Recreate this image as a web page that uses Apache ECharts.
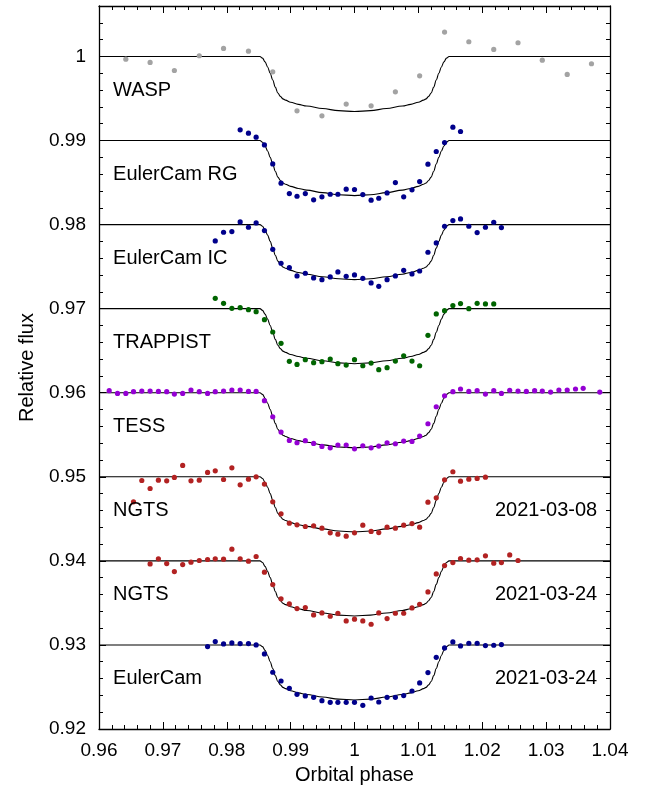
<!DOCTYPE html>
<html>
<head>
<meta charset="utf-8">
<script src="https://cdn.jsdelivr.net/npm/echarts@6/dist/echarts.min.js"></script>
<style>
html,body{margin:0;padding:0;background:#fff;}
#chart{width:657px;height:794px;}
</style>
</head>
<body>
<div id="chart"></div>
<script>
// ---------- data ----------
// shared phase bins (binned light curves)
const phaseBins = [0.9616,0.9629,0.9642,0.9654,0.9667,0.9680,0.9693,0.9706,0.9718,0.9731,
  0.9744,0.9757,0.9770,0.9782,0.9795,0.9808,0.9821,0.9834,0.9846,0.9859,
  0.9872,0.9885,0.9898,0.9910,0.9923,0.9936,0.9949,0.9962,0.9974,0.9987,
  1.0000,1.0013,1.0026,1.0038,1.0051,1.0064,1.0077,1.0090,1.0102,1.0115,
  1.0128,1.0141,1.0154,1.0166,1.0179,1.0192,1.0205,1.0218,1.0230,1.0243,
  1.0256,1.0269,1.0282,1.0294,1.0307,1.0320,1.0333,1.0346,1.0358,1.0371,1.0384];

const waspPhase = [0.9642,0.9680,0.9718,0.9757,0.9795,0.9834,0.9872,0.9910,0.9949,0.9987,
  1.0026,1.0064,1.0102,1.0141,1.0179,1.0218,1.0256,1.0294,1.0333,1.0371];
const waspFlux = [0.99968,0.99929,0.99833,1.00008,1.00095,1.00063,0.99817,0.99353,0.99294,0.99433,
  0.99413,0.99579,0.99770,1.00290,1.00175,1.00083,1.00163,0.99956,0.99786,0.99913];

const eulerRgStart = 16;
const eulerRgFlux = [0.99127,0.99087,0.99040,0.98948,0.98722,0.98492,0.98369,0.98337,0.98369,0.98294,
  0.98330,0.98361,0.98361,0.98421,0.98417,0.98357,0.98290,0.98313,0.98377,0.98500,
  0.98330,0.98413,0.98512,0.98718,0.98869,0.98976,0.99159,0.99107];

const eulerIcStart = 13;
const eulerIcFlux = [0.97806,0.97909,0.97917,0.98032,0.97968,0.98020,0.97929,0.97706,0.97540,0.97488,
  0.97389,0.97421,0.97365,0.97345,0.97377,0.97437,0.97385,0.97401,0.97361,0.97306,
  0.97266,0.97345,0.97389,0.97456,0.97413,0.97448,0.97671,0.97782,0.97980,0.98048,
  0.98067,0.97980,0.97905,0.97968,0.98028,0.97964];

const trappistStart = 13;
const trappistFlux = [0.97123,0.97063,0.97004,0.97012,0.96988,0.96964,0.96869,0.96722,0.96587,0.96373,
  0.96337,0.96393,0.96357,0.96369,0.96401,0.96345,0.96329,0.96393,0.96321,0.96353,
  0.96274,0.96298,0.96377,0.96440,0.96377,0.96321,0.96683,0.96937,0.96976,0.97036,
  0.97060,0.97000,0.97063,0.97056,0.97056];

const tessStart = 0;
const tessFlux = [0.96024,0.95992,0.95992,0.96012,0.96020,0.96020,0.96016,0.96012,0.95984,0.95992,
  0.96032,0.96012,0.95992,0.96012,0.96020,0.96032,0.96032,0.96016,0.96016,0.95905,
  0.95714,0.95532,0.95433,0.95405,0.95429,0.95397,0.95361,0.95345,0.95377,0.95377,
  0.95333,0.95369,0.95345,0.95365,0.95405,0.95393,0.95425,0.95421,0.95484,0.95631,
  0.95833,0.95964,0.96012,0.96044,0.96016,0.96024,0.95984,0.96024,0.95992,0.96028,
  0.96020,0.96016,0.96024,0.96020,0.96008,0.96032,0.96032,0.96044,0.96052,null,0.96008];

const ngts1Start = 3;
const ngts1Flux = [0.94702,0.94956,0.94861,0.94960,0.94952,0.94992,0.95135,0.94952,0.94960,0.95052,
  0.95071,0.94968,0.95107,0.94905,0.94972,0.95000,0.94913,0.94702,0.94560,0.94448,
  0.94429,0.94409,0.94417,0.94389,0.94333,0.94317,0.94294,0.94333,0.94425,0.94350,
  0.94337,0.94401,0.94389,0.94425,0.94444,0.94401,0.94698,0.94750,0.94964,0.95060,
  0.94948,0.94972,0.94980,0.94996];

const ngts2Start = 5;
const ngts2Flux = [0.93964,0.94024,0.93968,0.93873,0.93956,0.93984,0.94004,0.94016,0.94024,0.94020,
  0.94139,0.94024,0.93996,0.94052,0.93865,0.93718,0.93548,0.93488,0.93433,0.93444,
  0.93357,0.93381,0.93341,0.93377,0.93286,0.93306,0.93286,0.93246,0.93381,0.93313,
  0.93377,0.93377,0.93440,0.93484,0.93631,0.93845,0.93944,0.93980,0.94028,0.94008,
  0.94012,0.94060,0.93972,0.93980,0.94071,0.94004];

const eulerStart = 12;
const eulerFlux = [0.92980,0.93040,0.93012,0.93024,0.93016,0.93016,0.93000,0.92893,0.92675,0.92571,
  0.92484,0.92413,0.92393,0.92377,0.92337,0.92317,0.92317,0.92317,0.92317,0.92282,
  0.92369,0.92321,0.92377,0.92377,0.92397,0.92452,0.92548,0.92671,0.92853,0.92964,
  0.93036,0.92988,0.93020,0.93020,0.92992,0.92996,0.93004];

// transit model (normalised), shared by all panels
const modelPhase = [0.9600,0.9852,0.9856,0.9860,0.9864,0.9868,0.9872,0.9876,0.9880,0.9884,
  0.9888,0.9892,0.9900,0.9912,0.9925,0.9950,0.9975,1.0000,1.0025,1.0050,
  1.0075,1.0088,1.0100,1.0108,1.0112,1.0116,1.0120,1.0124,1.0128,1.0132,
  1.0136,1.0140,1.0144,1.0148,1.0400];
const modelFlux = [1.00000,1.00000,0.99980,0.99935,0.99875,0.99800,0.99720,0.99635,0.99565,0.99525,
  0.99495,0.99480,0.99455,0.99430,0.99410,0.99380,0.99355,0.99345,0.99355,0.99380,
  0.99410,0.99430,0.99455,0.99480,0.99495,0.99525,0.99565,0.99635,0.99720,0.99800,
  0.99875,0.99935,0.99980,1.00000,1.00000];

const baselines = [1.00, 0.99, 0.98, 0.97, 0.96, 0.95, 0.94, 0.93];
const instruments = ['WASP','EulerCam RG','EulerCam IC','TRAPPIST','TESS','NGTS','NGTS','EulerCam'];
const dates = [null,null,null,null,null,'2021-03-08','2021-03-24','2021-03-24'];

const xTicks = [0.96,0.97,0.98,0.99,1.00,1.01,1.02,1.03,1.04];
const yTicks = [0.92,0.93,0.94,0.95,0.96,0.97,0.98,0.99,1.00];

// ---------- build ----------
const colors = {
  wasp:'#a3a3a3', euler:'#00008b', trappist:'#006400', tess:'#9400d3', ngts:'#b22222'
};
function binned(start, flux){
  const out = [];
  flux.forEach((f,i)=>{ if(f!==null) out.push([phaseBins[start+i], f]); });
  return out;
}
const pointSets = [
  {data: waspPhase.map((p,i)=>[p, waspFlux[i]]), color: colors.wasp},
  {data: binned(eulerRgStart, eulerRgFlux), color: colors.euler},
  {data: binned(eulerIcStart, eulerIcFlux), color: colors.euler},
  {data: binned(trappistStart, trappistFlux), color: colors.trappist},
  {data: binned(tessStart, tessFlux), color: colors.tess},
  {data: binned(ngts1Start, ngts1Flux), color: colors.ngts},
  {data: binned(ngts2Start, ngts2Flux), color: colors.ngts},
  {data: binned(eulerStart, eulerFlux), color: colors.euler}
];

const FONT = '"Liberation Sans", Arial, sans-serif';
const series = [];
baselines.forEach((b)=>{
  series.push({
    type:'line', xAxisIndex:0, yAxisIndex:0, silent:true,
    data: modelPhase.map((p,i)=>[p, modelFlux[i] - (1 - b)]),
    showSymbol:false, smooth:0.35, smoothMonotone:'x',
    lineStyle:{color:'#000', width:1.1}, z:2
  });
});
pointSets.forEach((s)=>{
  series.push({
    type:'scatter', xAxisIndex:0, yAxisIndex:0, silent:true,
    data:s.data, symbolSize:5.2, itemStyle:{color:s.color, opacity:1}, z:3
  });
});
const LABEL_DY = 0.0040;
series.push({
  type:'scatter', xAxisIndex:0, yAxisIndex:0, silent:true, symbolSize:0, z:4,
  itemStyle:{opacity:1},
  data: baselines.map((b,i)=>({value:[0.9622, b - LABEL_DY], name:instruments[i]})),
  label:{show:true, position:'right', distance:0, formatter:p=>p.name,
         color:'#000', opacity:1, fontSize:20, fontFamily:FONT}
});
series.push({
  type:'scatter', xAxisIndex:0, yAxisIndex:0, silent:true, symbolSize:0, z:4,
  itemStyle:{opacity:1},
  data: baselines.map((b,i)=>({value:[1.0380, b - LABEL_DY], name:dates[i]})).filter(d=>d.name),
  label:{show:true, position:'left', distance:0, formatter:p=>p.name,
         color:'#000', opacity:1, fontSize:20, fontFamily:FONT}
});

const fmt = v => String(+(+v).toFixed(3));
const lineStyle = {color:'#000', width:1.3};
function xAx(pos, labels){
  return {
    type:'value', position:pos, min:0.96, max:1.04, interval:0.01,
    axisLine:{show:true, onZero:false, lineStyle},
    axisTick:{show:true, inside:true, length:7, lineStyle:{color:'#000', width:1}},
    minorTick:{show:true, splitNumber:5, length:4, lineStyle:{color:'#000', width:1}},
    splitLine:{show:false},
    axisLabel:{show:labels, margin:12, color:'#000', fontSize:19, fontFamily:FONT, formatter:fmt,
      customValues: labels ? xTicks : undefined},
    name: labels ? 'Orbital phase' : '', nameLocation:'middle', nameGap:36,
    nameTextStyle:{color:'#000', fontSize:20, fontFamily:FONT}
  };
}
function yAx(pos, major, labels){
  return {
    type:'value', position:pos, min:0.92, max:1.006, interval: major ? 0.01 : 0.002,
    axisLine:{show:major, onZero:false, lineStyle},
    axisTick:{show:true, inside:true, length: major ? 7 : 4, lineStyle:{color:'#000', width:1}},
    splitLine:{show:false},
    axisLabel:{show:labels, margin:13, color:'#000', fontSize:19, fontFamily:FONT, formatter:fmt,
      customValues: labels ? yTicks : undefined},
    name: labels ? 'Relative flux' : '', nameLocation:'middle', nameGap:62,
    nameTextStyle:{color:'#000', fontSize:20, fontFamily:FONT}
  };
}

const chart = echarts.init(document.getElementById('chart'), null, {renderer:'canvas'});
chart.setOption({
  backgroundColor:'#fff',
  animation:false,
  grid:{left:99, right:47, top:6, bottom:65, containLabel:false},
  xAxis:[xAx('bottom', true), xAx('top', false)],
  yAxis:[yAx('left', true, true), yAx('left', false, false), yAx('right', true, false), yAx('right', false, false)],
  series
});
</script>
</body>
</html>
